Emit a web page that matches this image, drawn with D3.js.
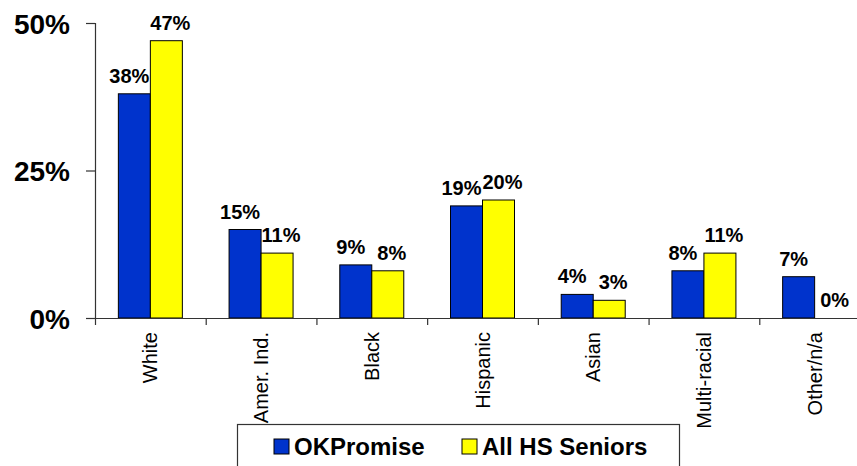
<!DOCTYPE html>
<html lang="en">
	<head>
		<meta charset="utf-8">
		<title>OKPromise vs All HS Seniors</title>
		<script type="text/javascript" src="https://cdn.jsdelivr.net/npm/d3@7/dist/d3.min.js"></script>
		<style>
			body { margin: 0; background: #fff; }
			svg { display: block; font-family: "Liberation Sans", Arial, sans-serif; }
			.axis path, .axis line { stroke: #333; stroke-width: 1.2; }
			.ylab { font-size: 28px; font-weight: bold; }
			.xlab { font-size: 20px; }
			.val { font-size: 20px; font-weight: bold; }
			.leg { font-size: 24px; font-weight: bold; }
		</style>
	</head>
	<body>
		<script type="text/javascript">

			// Data
			var categories = ["White", "Amer. Ind.", "Black", "Hispanic", "Asian", "Multi-racial", "Other/n/a"];
			var seriesNames = ["OKPromise", "All HS Seniors"];
			var okPromise = [38, 15, 9, 19, 4, 8, 7];
			var allSeniors = [47, 11, 8, 20, 3, 11, 0];
			var yTicks = [0, 25, 50];

			var colors = { "OKPromise": "#0033cc", "All HS Seniors": "#ffff00" };

			var w = 857;
			var h = 466;

			// rows for the grouped bars
			var rows = categories.map(function(c, i) {
				return { cat: c, values: [
					{ key: seriesNames[0], v: okPromise[i] },
					{ key: seriesNames[1], v: allSeniors[i] }
				]};
			});

			var svg = d3.select("body")
						.append("svg")
						.attr("width", w)
						.attr("height", h);

			// chart runs off the right edge like the original
			var x0 = d3.scaleBand()
						.domain(categories)
						.range([95, 870])
						.padding(0);

			var x1 = d3.scaleBand()
						.domain(seriesNames)
						.range([0, x0.bandwidth()])
						.paddingInner(0)
						.paddingOuter(0.73);

			var y = d3.scaleLinear()
						.domain([0, 50])
						.range([318, 23]);

			// Bars
			var groups = svg.selectAll(".grp")
						.data(rows)
						.enter()
						.append("g")
						.attr("class", "grp")
						.attr("transform", function(d) { return "translate(" + x0(d.cat) + ",0)"; });

			groups.selectAll("rect")
				.data(function(d) { return d.values; })
				.enter()
				.append("rect")
				.attr("x", function(d) { return x1(d.key); })
				.attr("y", function(d) { return y(d.v); })
				.attr("width", x1.bandwidth())
				.attr("height", function(d) { return y(0) - y(d.v); })
				.attr("fill", function(d) { return colors[d.key]; })
				.attr("stroke", "#000")
				.attr("stroke-width", 1);

			// Value labels
			groups.selectAll(".val")
				.data(function(d) { return d.values; })
				.enter()
				.append("text")
				.attr("class", "val")
				.attr("text-anchor", "middle")
				.attr("x", function(d, i) { return x1(d.key) + x1.bandwidth() / 2 + (i === 0 ? -5 : 4); })
				.attr("y", function(d) { return y(d.v) - 11; })
				.text(function(d) { return d.v + "%"; });

			// Y axis
			var yAxis = d3.axisLeft(y)
						.tickValues(yTicks)
						.tickSize(9)
						.tickFormat(function(d) { return d + "%"; });

			var gy = svg.append("g")
						.attr("class", "axis")
						.attr("transform", "translate(95,0)")
						.call(yAxis);
			gy.selectAll("text")
				.attr("class", "ylab")
				.attr("x", -25)
				.attr("dy", "0.36em")
				.attr("fill", "#000");

			// X axis: ticks on category boundaries
			var xEdge = d3.scaleLinear().domain([0, categories.length]).range(x0.range());
			var xAxis = d3.axisBottom(xEdge)
						.tickValues(d3.range(categories.length))
						.tickSize(7)
						.tickSizeOuter(0)
						.tickFormat("");

			svg.append("g")
				.attr("class", "axis")
				.attr("transform", "translate(0," + y(0) + ")")
				.call(xAxis)
				.select(".domain")
				.attr("d", "M86,0.5H" + w);

			// Category labels, rotated
			svg.selectAll(".xlab")
				.data(categories)
				.enter()
				.append("text")
				.attr("class", "xlab")
				.attr("text-anchor", "end")
				.attr("transform", function(d) {
					return "translate(" + (x0(d) + x0.bandwidth() / 2 + 7) + "," + (y(0) + 14) + ") rotate(-90)";
				})
				.text(function(d) { return d; });

			// Legend
			var legend = svg.append("g").attr("transform", "translate(237,424)");
			legend.append("rect")
				.attr("x", 0.5).attr("y", 0.5)
				.attr("width", 442).attr("height", 60)
				.attr("fill", "#fff")
				.attr("stroke", "#333")
				.attr("stroke-width", 1.2);

			var legX = [37, 225];
			seriesNames.forEach(function(s, i) {
				legend.append("rect")
					.attr("x", legX[i]).attr("y", 15)
					.attr("width", 15).attr("height", 15)
					.attr("fill", colors[s])
					.attr("stroke", "#000");
				legend.append("text")
					.attr("class", "leg")
					.attr("x", legX[i] + 20)
					.attr("y", 31)
					.text(s);
			});

		</script>
	</body>
</html>
